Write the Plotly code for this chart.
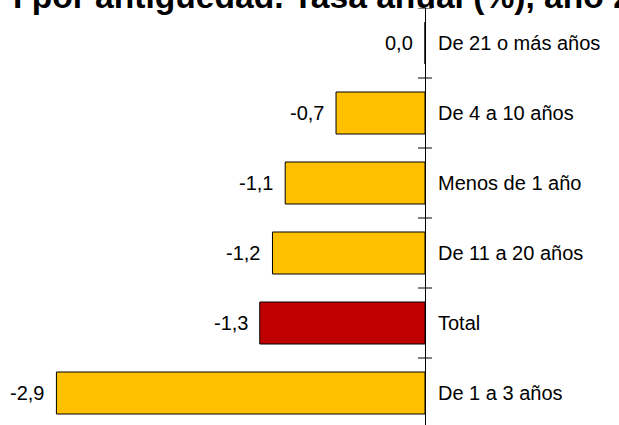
import plotly.graph_objects as go

categories = ["De 21 o más años", "De 4 a 10 años", "Menos de 1 año",
              "De 11 a 20 años", "Total", "De 1 a 3 años"]
values = [0.0, -0.7, -1.1, -1.2, -1.3, -2.9]
value_labels = ["0,0", "-0,7", "-1,1", "-1,2", "-1,3", "-2,9"]
bar_colors = ["#FFC000", "#FFC000", "#FFC000", "#FFC000", "#C00000", "#FFC000"]
title_text = "I por antigüedad. Tasa anual (%), año 2"

W, H = 619, 425
top_margin = 8
px_per_cat = 70.0
px_per_unit = 127.1
zero_px = 425.0

plot_h = H - top_margin
n = len(categories)
y_bottom = -0.5 + plot_h / px_per_cat
x_range = [-zero_px / px_per_unit, (W - zero_px) / px_per_unit]

FONT = "Liberation Sans, Arial, sans-serif"

fig = go.Figure()
fig.add_trace(go.Bar(
    x=values, y=categories, orientation="h",
    marker=dict(color=bar_colors, line=dict(color="black", width=1)),
    width=0.6, hoverinfo="skip",
))

annotations = []
for cat, v, lab in zip(categories, values, value_labels):
    annotations.append(dict(x=v, y=cat, xref="x", yref="y", text=lab,
                            showarrow=False, xanchor="right", yanchor="middle",
                            xshift=-10, font=dict(family=FONT, size=20, color="black")))
    annotations.append(dict(x=0, y=cat, xref="x", yref="y", text=cat,
                            showarrow=False, xanchor="left", yanchor="middle",
                            xshift=11, font=dict(family=FONT, size=20, color="black")))

annotations.append(dict(x=11 / W, y=1, xref="paper", yref="paper", text="<b>" + title_text + "</b>",
                        showarrow=False, xanchor="left", yanchor="middle", yshift=12,
                        font=dict(family=FONT, size=33.6, color="black")))

shapes = []
tick_half = 7 / px_per_unit
for k in range(n):
    b = k - 0.5
    shapes.append(dict(type="line", xref="x", yref="y", x0=-tick_half, x1=tick_half,
                       y0=b, y1=b, line=dict(color="black", width=1)))

fig.update_layout(
    width=W, height=H,
    margin=dict(l=0, r=0, t=top_margin, b=0, pad=0),
    paper_bgcolor="white", plot_bgcolor="white",
    showlegend=False,
    xaxis=dict(range=x_range, showgrid=False, showticklabels=False, ticks="",
               zeroline=True, zerolinecolor="black", zerolinewidth=1, showline=False),
    yaxis=dict(range=[y_bottom, -0.5], showgrid=False, showticklabels=False, ticks="",
               zeroline=False, showline=False, categoryorder="array", categoryarray=categories),
    annotations=annotations, shapes=shapes,
)

fig.write_html("out.html", config={"displayModeBar": False, "staticPlot": True})

# remove the default browser body margin so the figure sits at the page origin
with open("out.html", "r", encoding="utf-8") as f:
    html = f.read()
html = html.replace("<head>", "<head><style>html,body{margin:0;padding:0;overflow:hidden;}</style>", 1)
with open("out.html", "w", encoding="utf-8") as f:
    f.write(html)
